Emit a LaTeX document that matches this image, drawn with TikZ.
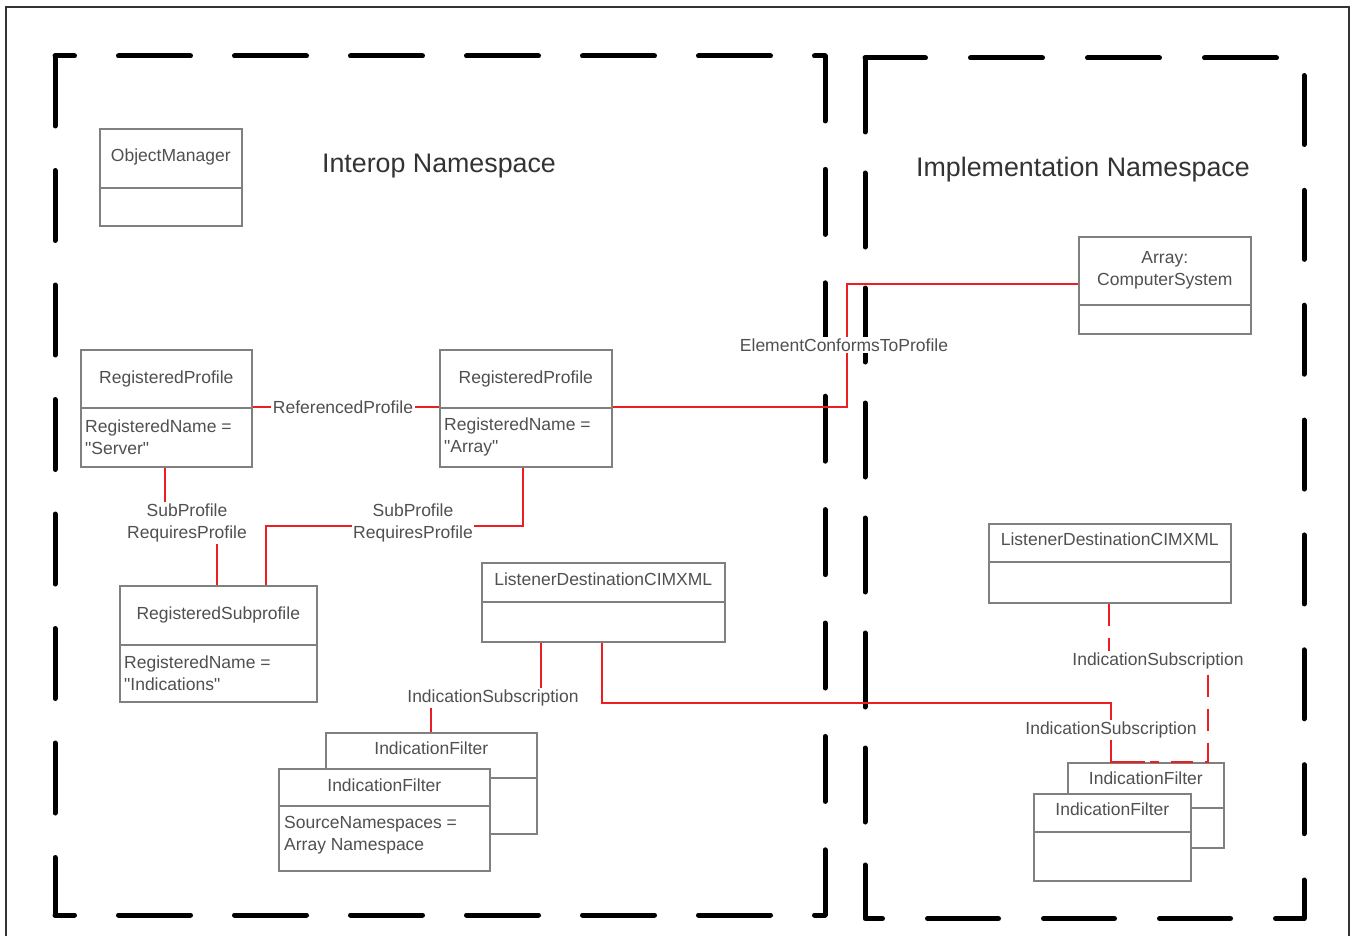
\documentclass[tikz,border=0pt]{standalone}
\usepackage{fontspec}
\setmainfont{Liberation Sans}
\definecolor{cred}{RGB}{235,30,35}
\definecolor{ctext}{RGB}{80,80,80}
\definecolor{cbox}{RGB}{128,128,128}
\definecolor{cns}{RGB}{0,0,0}
\tikzset{
  umlbox/.style={draw=cbox, line width=1.6pt, fill=white, inner sep=0pt, anchor=north west},
  divline/.style={draw=cbox, line width=1.6pt},
  txt/.style={text=ctext, font=\fontsize{17.5}{22}\selectfont, inner sep=0pt},
  attr/.style={txt, anchor=west, align=left},
  ttl/.style={text=black!80, font=\fontsize{26.8}{32}\selectfont, inner sep=0pt},
  assoc/.style={draw=cred, line width=2pt},
  dassoc/.style={assoc, dash pattern=on 22pt off 12pt},
  lab/.style={txt, fill=white, inner sep=1.5pt, align=center},
  nsline/.style={draw=cns, line width=5pt, line cap=round, line join=round},
}
\begin{document}
\begin{tikzpicture}[x=1pt, y=-1pt]
\useasboundingbox (0,0) rectangle (1351,936);
% outer frame
\draw[line width=1.5pt, draw=black!80] (6,940) -- (6,7) -- (1349,7) -- (1349,940);

% namespace regions (dashed)
\draw[nsline, dash pattern=on 72pt off 44pt, dash phase=52.5pt] (55,56) -- (825,56);
\draw[nsline, dash pattern=on 72pt off 44pt, dash phase=52.5pt] (55,915) -- (825,915);
\draw[nsline, dash pattern=on 70pt off 44.5pt] (55,56) -- (55,915);
\draw[nsline, dash pattern=on 65pt off 48.4pt] (825,56) -- (825,915);

\draw[nsline, dash pattern=on 72pt off 45pt, dash phase=11.5pt] (865,58) -- (1304,58);
\draw[nsline, dash pattern=on 74pt off 41pt] (865,58) -- (865,863);
\draw[nsline, dash pattern=on 69pt off 45.86pt, dash phase=97.36pt] (1304,58) -- (1304,838);
\draw[nsline] (865,865) -- (865,918.5) -- (882.5,918.5);
\draw[nsline] (927.5,918.5) -- (998.5,918.5);
\draw[nsline] (1043.5,918.5) -- (1114.5,918.5);
\draw[nsline] (1159.5,918.5) -- (1230.5,918.5);
\draw[nsline] (1275.5,918.5) -- (1304,918.5) -- (1304,880);

% titles
\node[ttl] (t1) at (439,166) {Interop Namespace};
\node[ttl] (t2) at (1083,170) {Implementation Namespace};

% ObjectManager
\node[umlbox, minimum width=142pt, minimum height=97pt] (om) at (99,128) {};
\draw[divline] ([yshift=-60pt]om.north west) -- ([yshift=-60pt]om.north east);
\node[txt] (om-t) at ([yshift=-29pt]om.north) {ObjectManager};

% RegisteredProfile Server
\node[umlbox, minimum width=171pt, minimum height=117pt] (rp1) at (80,349) {};
\draw[divline] ([yshift=-59pt]rp1.north west) -- ([yshift=-59pt]rp1.north east);
\node[txt] (rp1-t) at ([yshift=-30pt]rp1.north) {RegisteredProfile};
\node[attr] (rp1-a) at ([xshift=5pt, yshift=-88pt]rp1.north west) {RegisteredName =\\\textquotedbl Server\textquotedbl};

% RegisteredProfile Array
\node[umlbox, minimum width=172pt, minimum height=117pt] (rp2) at (439,349) {};
\draw[divline] ([yshift=-59pt]rp2.north west) -- ([yshift=-59pt]rp2.north east);
\node[txt] (rp2-t) at ([yshift=-30pt]rp2.north) {RegisteredProfile};
\node[attr] (rp2-a) at ([xshift=5pt, yshift=-88pt]rp2.north west) {RegisteredName =\\\textquotedbl Array\textquotedbl};

% RegisteredSubprofile
\node[umlbox, minimum width=197pt, minimum height=116pt] (rs) at (119,585) {};
\draw[divline] ([yshift=-60pt]rs.north west) -- ([yshift=-60pt]rs.north east);
\node[txt] (rs-t) at ([yshift=-30pt]rs.north) {RegisteredSubprofile};
\node[attr] (rs-a) at ([xshift=5pt, yshift=-88pt]rs.north west) {RegisteredName =\\\textquotedbl Indications\textquotedbl};

% Array: ComputerSystem
\node[umlbox, minimum width=172pt, minimum height=97pt] (acs) at (1078,236) {};
\draw[divline] ([yshift=-69pt]acs.north west) -- ([yshift=-69pt]acs.north east);
\node[txt, align=center] (acs-t) at ([yshift=-34pt]acs.north) {Array:\\ComputerSystem};

% ListenerDestinationCIMXML left
\node[umlbox, minimum width=243pt, minimum height=79pt] (ldl) at (481,562) {};
\draw[divline] ([yshift=-40pt]ldl.north west) -- ([yshift=-40pt]ldl.north east);
\node[txt] (ldl-t) at ([yshift=-17pt]ldl.north) {ListenerDestinationCIMXML};

% ListenerDestinationCIMXML right
\node[umlbox, minimum width=242pt, minimum height=79pt] (ldr) at (988,523) {};
\draw[divline] ([yshift=-39pt]ldr.north west) -- ([yshift=-39pt]ldr.north east);
\node[txt] (ldr-t) at ([yshift=-16pt]ldr.north) {ListenerDestinationCIMXML};

% IndicationFilter left (back, front)
\node[umlbox, minimum width=211pt, minimum height=101pt] (iflb) at (325,732) {};
\draw[divline] ([yshift=-46pt]iflb.north west) -- ([yshift=-46pt]iflb.north east);
\node[txt] (iflb-t) at ([yshift=-16pt]iflb.north) {IndicationFilter};
\node[umlbox, minimum width=211pt, minimum height=102pt] (iflf) at (278,768) {};
\draw[divline] ([yshift=-38pt]iflf.north west) -- ([yshift=-38pt]iflf.north east);
\node[txt] (iflf-t) at ([yshift=-17pt]iflf.north) {IndicationFilter};
\node[attr] (iflf-a) at ([xshift=6pt, yshift=-67.5pt]iflf.north west) {SourceNamespaces =\\Array Namespace};

% IndicationFilter right (back, front)
\node[umlbox, minimum width=156pt, minimum height=85pt] (ifrb) at (1067,762) {};
\draw[divline] ([yshift=-46pt]ifrb.north west) -- ([yshift=-46pt]ifrb.north east);
\node[txt] (ifrb-t) at ([yshift=-16pt]ifrb.north) {IndicationFilter};
\node[umlbox, minimum width=157pt, minimum height=87pt] (ifrf) at (1033,793) {};
\draw[divline] ([yshift=-39pt]ifrf.north west) -- ([yshift=-39pt]ifrf.north east);
\node[txt] (ifrf-t) at ([yshift=-16pt]ifrf.north) {IndicationFilter};

% associations
\draw[assoc] ([yshift=-58pt]rp1.north east) -- ([yshift=-58pt]rp2.north west);
\draw[assoc] ([xshift=85pt]rp1.south west) -- ++(0,57) -| ([xshift=98pt]rs.north west);
\draw[assoc] ([xshift=84pt]rp2.south west) -- ++(0,58) -| ([xshift=147pt]rs.north west);
\draw[assoc] ([yshift=-58pt]rp2.north east) -- ++(234,0) |- ([yshift=-48pt]acs.north west);
\draw[assoc] ([xshift=60pt]ldl.south west) -- ++(0,57) -| ([xshift=106pt]iflb.north west);
\draw[assoc] ([xshift=121pt]ldl.south west) -- ++(0,60) -| ([xshift=44pt]ifrb.north west) -- ++(34,0);
\draw[dassoc] ([xshift=121pt]ldr.south west) -- ++(0,58) -| ([xshift=141pt]ifrb.north west) -- ++(-58,0);

% association labels
\node[lab] (refp) at (343,407) {ReferencedProfile};
\node[lab] (sp1) at (187,523) {SubProfile\\RequiresProfile};
\node[lab] (sp2) at (413,523) {SubProfile\\RequiresProfile};
\node[lab] (ectp) at (844,345) {ElementConformsToProfile};
\node[lab] (isl) at (493,698) {IndicationSubscription};
\node[lab] (isr1) at (1111,730) {IndicationSubscription};
\node[lab] (isr2) at (1158,661) {IndicationSubscription};
\end{tikzpicture}
\end{document}
